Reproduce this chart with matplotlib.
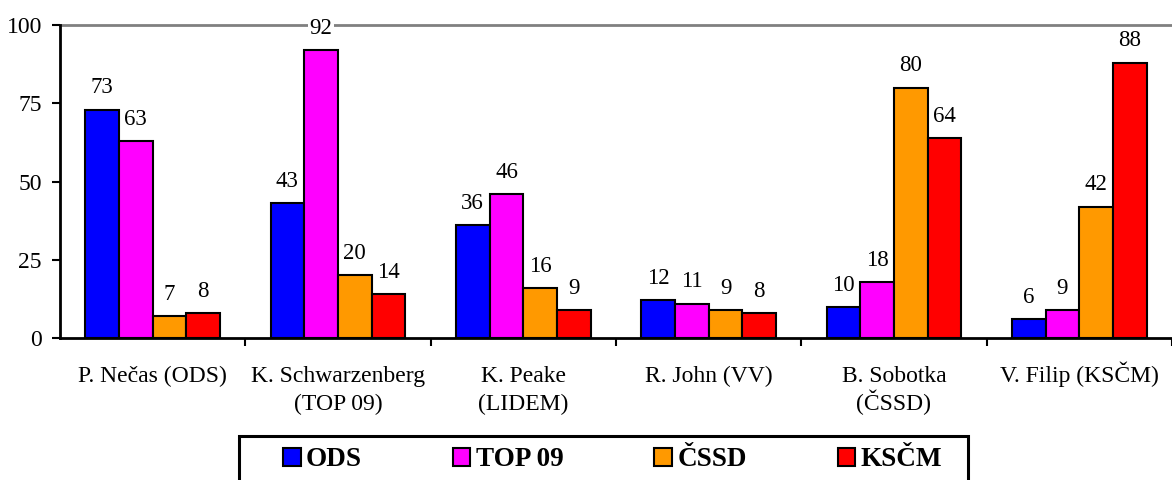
import matplotlib.pyplot as plt
from matplotlib.patches import Rectangle
import numpy as np

# data
candidates = ["P. Nečas (ODS)", "K. Schwarzenberg\n(TOP 09)", "K. Peake\n(LIDEM)",
              "R. John (VV)", "B. Sobotka\n(ČSSD)", "V. Filip (KSČM)"]
parties = ["ODS", "TOP 09", "ČSSD", "KSČM"]
ods = [73, 43, 36, 12, 10, 6]
top09 = [63, 92, 46, 11, 18, 9]
cssd = [7, 20, 16, 9, 80, 42]
kscm = [8, 14, 9, 8, 64, 88]
colors = ["#0000FF", "#FF00FF", "#FF9900", "#FF0000"]

plt.rcParams['font.family'] = ['Liberation Serif', 'DejaVu Serif']

fig = plt.figure(figsize=(11.72, 4.8), dpi=100)
ax = fig.add_axes([60/1172, 1 - 338/480, 1 - 60/1172, (338 - 25)/480])

x = np.arange(len(candidates))
w = 0.182
for i, (vals, name, c) in enumerate(zip([ods, top09, cssd, kscm], parties, colors)):
    pos = x + (i - 1.5) * w
    ax.bar(pos, vals, w, color=c, edgecolor='black', linewidth=1.5, label=name, zorder=3)
    for px, v in zip(pos, vals):
        ax.annotate(str(v), (px, v), xytext=(0, 8), textcoords='offset points',
                    ha='center', va='bottom', fontsize=16.5, zorder=5,
                    bbox=dict(facecolor='white', edgecolor='none', pad=1))

ax.axhline(100, color='#808080', linewidth=2, zorder=1, clip_on=False)
ax.set_ylim(0, 100)
ax.set_xlim(-0.5, -0.5 + 1112/186.7)
ax.set_yticks([0, 25, 50, 75, 100])
ax.tick_params(axis='y', labelsize=17, width=1.5, length=6, pad=7)

# category labels: one text per line so the Č accent does not shift lines
ax.set_xticks(x)
ax.set_xticklabels([''] * len(candidates))
ax.tick_params(axis='x', which='major', length=0)
for xi, lab in zip(x, candidates):
    for j, line in enumerate(lab.split('\n')):
        ax.annotate(line, (xi, 0), xycoords=('data', 'axes fraction'),
                    xytext=(0, -31.7 - 20.2 * j), textcoords='offset points',
                    ha='center', va='baseline', fontsize=17, annotation_clip=False)
ax.set_xticks(np.arange(0, 6) + 0.5, minor=True)
ax.tick_params(axis='x', which='minor', length=6, width=1.5)

for s in ['top', 'right']:
    ax.spines[s].set_visible(False)
for s in ['left', 'bottom']:
    ax.spines[s].set_linewidth(2)

# legend box drawn by hand, legend entries inside without frame
fig.patches.append(Rectangle((239/1172, -0.05), (968 - 239)/1172, 0.05 + 44/480,
                             transform=fig.transFigure, facecolor='white',
                             edgecolor='black', linewidth=2.2, zorder=0))
leg = fig.legend(loc='center left', bbox_to_anchor=(283/1172, 20/480),
                 ncol=4, frameon=False, prop={'weight': 'bold', 'size': 19.5},
                 handlelength=0.65, handleheight=0.65, handletextpad=0.2,
                 columnspacing=3.35, borderaxespad=0, borderpad=0)

plt.savefig('out.png')
